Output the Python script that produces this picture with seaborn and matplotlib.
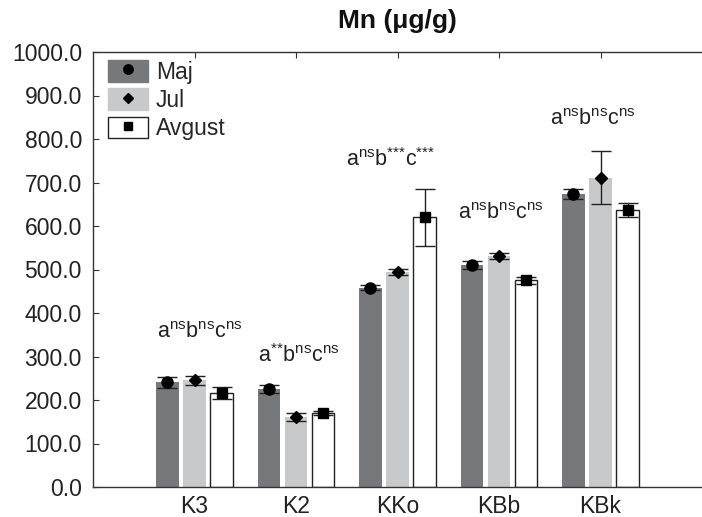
import pandas as pd
import matplotlib
matplotlib.use('Agg')
import matplotlib.pyplot as plt
import seaborn as sns
from matplotlib.patches import Patch
from matplotlib.lines import Line2D

# dados
sites = ['K3', 'K2', 'KKo', 'KBb', 'KBk']
months = ['Maj', 'Jul', 'Avgust']
maj = [241, 225, 458, 510, 674]
jul = [245, 161, 495, 531, 711]
avg = [217, 170, 620, 475, 637]
maj_err = [13, 10, 6, 9, 12]
jul_err = [10, 9, 7, 8, 61]
avg_err = [14, 4, 66, 8, 16]
notes = [r'a$^{\mathregular{ns}}$b$^{\mathregular{ns}}$c$^{\mathregular{ns}}$',
         r'a$^{\mathregular{{*}{*}}}$b$^{\mathregular{ns}}$c$^{\mathregular{ns}}$',
         r'a$^{\mathregular{ns}}$b$^{\mathregular{{*}{*}{*}}}$c$^{\mathregular{{*}{*}{*}}}$',
         r'a$^{\mathregular{ns}}$b$^{\mathregular{ns}}$c$^{\mathregular{ns}}$',
         r'a$^{\mathregular{ns}}$b$^{\mathregular{ns}}$c$^{\mathregular{ns}}$']
# posicao das anotacoes
note_x = [0.05, 1.03, 1.93, 3.02, 3.92]
note_y = [356, 303, 752, 628, 844]

sns.set_style('white')
plt.rcParams['font.family'] = ['Liberation Sans', 'DejaVu Sans']
plt.rcParams['mathtext.fontset'] = 'custom'
plt.rcParams['mathtext.rm'] = 'Liberation Sans'

df = pd.DataFrame({
    'site': sites * 3,
    'month': [m for m in months for _ in sites],
    'value': maj + jul + avg,
})
means = [maj, jul, avg]
errs = [maj_err, jul_err, avg_err]
colors = ['#77787b', '#c8c9cb', '#ffffff']
markers = ['o', 'D', 's']
msizes = [8, 6, 7.5]

fig = plt.figure(figsize=(7.02, 5.17), dpi=100)
ax = fig.add_axes([93 / 702, 1 - 487 / 517, 609 / 702, 435 / 517])

sns.barplot(data=df, x='site', y='value', hue='month', order=sites, hue_order=months,
            palette=colors, width=0.8, gap=0.17, errorbar=None, legend=False, ax=ax,
            linewidth=0)

bar_groups = list(ax.containers)
for i, cont in enumerate(bar_groups):
    xs = []
    for bar in cont:
        xs.append(bar.get_x() + bar.get_width() / 2)
        if i == 2:
            bar.set_edgecolor('#222222')
            bar.set_linewidth(1.0)
    ax.errorbar(xs, means[i], yerr=errs[i], fmt=markers[i], color='black', ms=msizes[i],
                ecolor='#222222', elinewidth=1.0, capsize=7, capthick=1.0, zorder=5)

for j, txt in enumerate(notes):
    ax.text(note_x[j], note_y[j], txt, ha='center', va='center', fontsize=15.5, color='#222222')

ax.set_xlim(-1, 5)
ax.set_ylim(0, 1000)
ax.set_yticks(range(0, 1001, 100))
ax.set_yticklabels([f'{v:.1f}' for v in range(0, 1001, 100)])
ax.set_xlabel('')
ax.set_ylabel('')
ax.tick_params(axis='both', direction='in', length=4, width=0.8, colors='#333333',
               labelsize=16.5, labelcolor='#222222')
ax.tick_params(axis='x', top=True, bottom=True, pad=6)
ax.tick_params(axis='y', left=True, pad=8)
ax.spines['right'].set_visible(False)
for s in ['left', 'top', 'bottom']:
    ax.spines[s].set_color('#333333')
    ax.spines[s].set_linewidth(1.0)

ax.set_title('Mn (μg/g)', fontsize=19, fontweight='bold', pad=17, color='#111111')

handles = []
for i in range(3):
    p = Patch(facecolor=colors[i], edgecolor='#222222' if i == 2 else colors[i], linewidth=1.0)
    m = Line2D([], [], marker=markers[i], color='black', linestyle='none', ms=msizes[i] * 0.85)
    handles.append((p, m))
ax.legend(handles, months, loc='upper left', bbox_to_anchor=(15 / 609, 1 - 8 / 435),
          frameon=False, fontsize=16.5, handlelength=1.74, handleheight=1.09,
          labelspacing=0.2, handletextpad=0.35, borderaxespad=0, borderpad=0)

fig.savefig('out.png', dpi=100)
